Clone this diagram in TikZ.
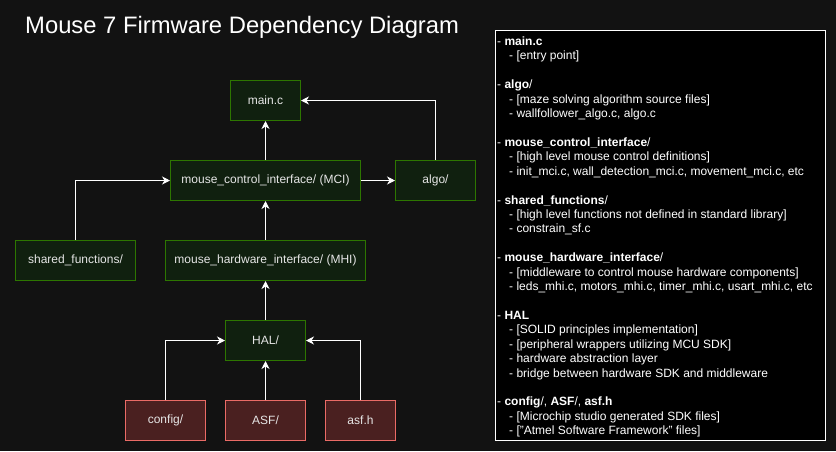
\documentclass[tikz,border=0pt]{standalone}
\usepackage{fontspec}
\setmainfont{Liberation Sans}
\usetikzlibrary{arrows.meta}
\definecolor{bg}{HTML}{121212}
\definecolor{gfill}{HTML}{10200F}
\definecolor{gline}{HTML}{2D7600}
\definecolor{rfill}{HTML}{4A2020}
\definecolor{rline}{HTML}{EA6B66}
\definecolor{txt}{HTML}{E6E6E6}
\tikzset{
  x=1pt, y=-1pt,
  box/.style={draw=gline, fill=gfill, line width=1pt, text=txt, font=\fontsize{12}{14}\selectfont, inner sep=0pt, anchor=north west},
  rbox/.style={box, draw=rline, fill=rfill},
  conn/.style={draw=white, line width=1pt, -{Stealth[length=8pt,width=8pt,inset=2.5pt]}},
}
\begin{document}
\begin{tikzpicture}
\fill[bg] (0,0) rectangle (836,451);
\useasboundingbox (0,0) rectangle (836,451);
\node[text=white, font=\fontsize{23.8}{28}\selectfont, anchor=base west, inner sep=0pt] (title) at (25,33.5) {Mouse 7 Firmware Dependency Diagram};

\node[box, minimum width=70pt, minimum height=40pt] (main) at (230,80) {main.c};
\node[box, minimum width=190pt, minimum height=40pt] (mci) at (170,160) {mouse\_control\_interface/ (MCI)};
\node[box, minimum width=80pt, minimum height=40pt] (algo) at (395,160) {algo/};
\node[box, minimum width=120pt, minimum height=40pt] (sf) at (15,240) {shared\_functions/};
\node[box, minimum width=200pt, minimum height=40pt] (mhi) at (165,240) {mouse\_hardware\_interface/ (MHI)};
\node[box, minimum width=80pt, minimum height=40pt] (hal) at (225,320) {HAL/};
\node[rbox, minimum width=80pt, minimum height=40pt] (config) at (125,400) {config/};
\node[rbox, minimum width=80pt, minimum height=40pt] (asf) at (225,400) {ASF/};
\node[rbox, minimum width=70pt, minimum height=40pt] (asfh) at (325,400) {asf.h};

\draw[conn] (mci.north) -- (main.south);
\draw[conn] (algo.north) |- (main.east);
\draw[conn] (mci.east) -- (algo.west);
\draw[conn] (sf.north) |- (mci.west);
\draw[conn] (mhi.north) -- (mci.south);
\draw[conn] (hal.north) -- (mhi.south);
\draw[conn] (config.north) |- (hal.west);
\draw[conn] (asf.north) -- (hal.south);
\draw[conn] (asfh.north) |- (hal.east);

\node[draw=white, fill=black, line width=1pt, anchor=north west, minimum width=330pt, minimum height=410pt, inner sep=0pt] (legend) at (495,30) {};
\node[anchor=north west, text=white, font=\fontsize{12}{14.42}\selectfont, align=left, inner sep=0pt] (ltext) at (497,36.5) {%
- \textbf{main.c}\\
\hspace*{12pt}- [entry point]\\[14.42pt]
- \textbf{algo}/\\
\hspace*{12pt}- [maze solving algorithm source files]\\
\hspace*{12pt}- wallfollower\_algo.c, algo.c\\[14.42pt]
- \textbf{mouse\_control\_interface}/\\
\hspace*{12pt}- [high level mouse control definitions]\\
\hspace*{12pt}- init\_mci.c, wall\_detection\_mci.c, movement\_mci.c, etc\\[14.42pt]
- \textbf{shared\_functions}/\\
\hspace*{12pt}- [high level functions not defined in standard library]\\
\hspace*{12pt}- constrain\_sf.c\\[14.42pt]
- \textbf{mouse\_hardware\_interface}/\\
\hspace*{12pt}- [middleware to control mouse hardware components]\\
\hspace*{12pt}- leds\_mhi.c, motors\_mhi.c, timer\_mhi.c, usart\_mhi.c, etc\\[14.42pt]
- \textbf{HAL}\\
\hspace*{12pt}- [SOLID principles implementation]\\
\hspace*{12pt}- [peripheral wrappers utilizing MCU SDK]\\
\hspace*{12pt}- hardware abstraction layer\\
\hspace*{12pt}- bridge between hardware SDK and middleware\\[14.42pt]
- \textbf{config}/, \textbf{ASF}/, \textbf{asf.h}\\
\hspace*{12pt}- [Microchip studio generated SDK files]\\
\hspace*{12pt}- ["Atmel Software Framework" files]};
\end{tikzpicture}
\end{document}
